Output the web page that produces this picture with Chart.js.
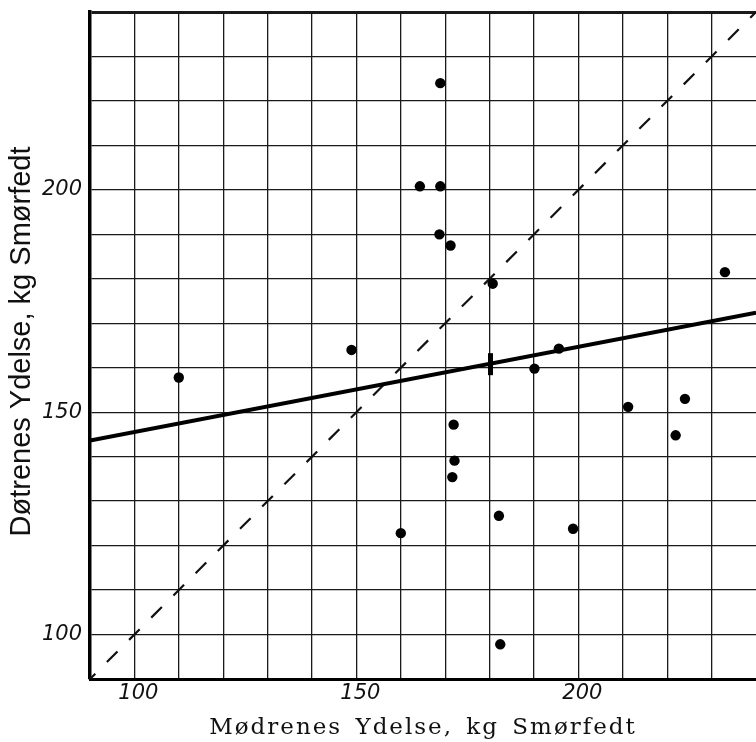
<!DOCTYPE html>
<html>
<head>
<meta charset="utf-8">
<script src="https://cdn.jsdelivr.net/npm/chart.js@4"></script>
<style>
  html, body { margin: 0; padding: 0; background: #fff; }
  #wrap { width: 756px; height: 742px; position: relative; overflow: hidden; }
</style>
</head>
<body>
<div id="wrap"><canvas id="c" width="756" height="742"></canvas></div>
<script>
// ---- data ----
const axisRange = [90, 240];
const gridStep = 10;
const tickLabels = [100, 150, 200];

// mothers' yield (x) and daughters' yield (y), kg butterfat
const mothers   = [110.0, 148.9, 168.9, 164.3, 168.9, 168.7, 171.2, 180.7, 233.0, 195.6, 190.1,
                   160.0, 171.9, 172.1, 171.6, 182.1, 182.4, 198.8, 211.2, 224.0, 221.9];
const daughters = [157.8, 164.0, 224.0, 200.8, 200.8, 190.0, 187.5, 178.9, 181.5, 164.3, 159.8,
                   122.8, 147.2, 139.1, 135.4, 126.7, 97.8, 123.8, 151.2, 153.0, 144.8];

// mean point
const meanX = [180.2];
const meanY = [160.8];

// regression line end points
const regX = [90, 240];
const regY = [143.6, 172.4];

// equality line (daughters = mothers)
const eqX = [90, 240];
const eqY = [90, 240];

const xTitle = 'Mødrenes Ydelse, kg Smørfedt';
const yTitle = ' Døtrenes Ydelse, kg Smørfedt';

// ---- build ----
const pts = (xs, ys) => xs.map((x, i) => ({x, y: ys[i]}));

const titleSpacing = {
  id: 'titleSpacing',
  beforeDraw(chart) {
    const spec = { x: ['2px', '4px'], y: ['0px', '0px'] };
    Object.keys(spec).forEach(id => {
      const s = chart.scales[id];
      if (!s || s._spPatched) return;
      const orig = s.drawTitle;
      s.drawTitle = function () {
        const ctx = this.ctx;
        ctx.save();
        ctx.letterSpacing = spec[id][0];
        ctx.wordSpacing = spec[id][1];
        orig.call(this);
        ctx.restore();
      };
      s._spPatched = true;
    });
  }
};

const bg = {
  id: 'bg',
  beforeDraw(chart) {
    const ctx = chart.ctx;
    ctx.save();
    ctx.fillStyle = '#fff';
    ctx.fillRect(0, 0, chart.width, chart.height);
    ctx.restore();
  }
};

const noPad = s => { s.paddingTop = 0; s.paddingBottom = 0; s.paddingLeft = 0; s.paddingRight = 0; };

new Chart(document.getElementById('c'), {
  type: 'scatter',
  data: {
    datasets: [
      {
        label: 'equality',
        data: pts(eqX, eqY),
        showLine: true,
        borderColor: '#111',
        borderWidth: 2.2,
        borderDash: [15, 16.4],
        borderDashOffset: 7.5,
        pointRadius: 0,
        order: 3
      },
      {
        label: 'regression',
        data: pts(regX, regY),
        showLine: true,
        borderColor: '#000',
        borderWidth: 4,
        pointRadius: 0,
        order: 2
      },
      {
        label: 'mean',
        data: pts(meanX, meanY),
        pointStyle: 'line',
        rotation: 90,
        pointRadius: 11,
        borderWidth: 5,
        borderColor: '#000',
        backgroundColor: '#000',
        order: 1
      },
      {
        label: 'points',
        data: pts(mothers, daughters),
        pointRadius: 5.2,
        pointBackgroundColor: '#000',
        pointBorderColor: '#000',
        pointBorderWidth: 0,
        order: 0
      }
    ]
  },
  options: {
    responsive: false,
    animation: false,
    devicePixelRatio: 1,
    layout: { autoPadding: false, padding: { top: 12, left: 0, right: 0, bottom: 0 } },
    plugins: { legend: { display: false }, tooltip: { enabled: false } },
    scales: {
      x: {
        type: 'linear',
        min: axisRange[0], max: axisRange[1],
        afterFit: s => { s.height = 63; noPad(s); },
        ticks: {
          stepSize: gridStep,
          autoSkip: false,
          maxRotation: 0,
          padding: 2,
          labelOffset: 4,
          color: '#111',
          font: { family: 'DejaVu Sans', style: 'italic', size: 21 },
          callback: v => tickLabels.includes(v) ? String(v) : ''
        },
        grid: {
          drawTicks: false,
          lineWidth: 1.3,
          color: c => (c.tick && c.tick.value === axisRange[1]) ? 'rgba(0,0,0,0)' : '#1a1a1a'
        },
        border: { display: true, color: '#000', width: 3 },
        title: {
          display: true,
          text: xTitle,
          color: '#111',
          font: { family: 'DejaVu Serif', size: 23 },
          padding: { top: 0, bottom: 0 }
        }
      },
      y: {
        type: 'linear',
        min: axisRange[0], max: axisRange[1],
        afterFit: s => { s.width = 90; noPad(s); },
        ticks: {
          stepSize: gridStep,
          autoSkip: false,
          padding: 8,
          color: '#111',
          font: { family: 'DejaVu Sans', style: 'italic', size: 21 },
          callback: v => tickLabels.includes(v) ? String(v) : ''
        },
        grid: {
          drawTicks: false,
          color: '#1a1a1a',
          lineWidth: c => (c.tick && c.tick.value === axisRange[1]) ? 3 : 1.3
        },
        border: { display: true, color: '#000', width: 3.5 },
        title: {
          display: true,
          text: yTitle,
          color: '#111',
          font: { family: 'Liberation Sans', size: 29 },
          padding: { top: 5, bottom: 0 }
        }
      }
    }
  },
  plugins: [bg, titleSpacing]
});
</script>
</body>
</html>
